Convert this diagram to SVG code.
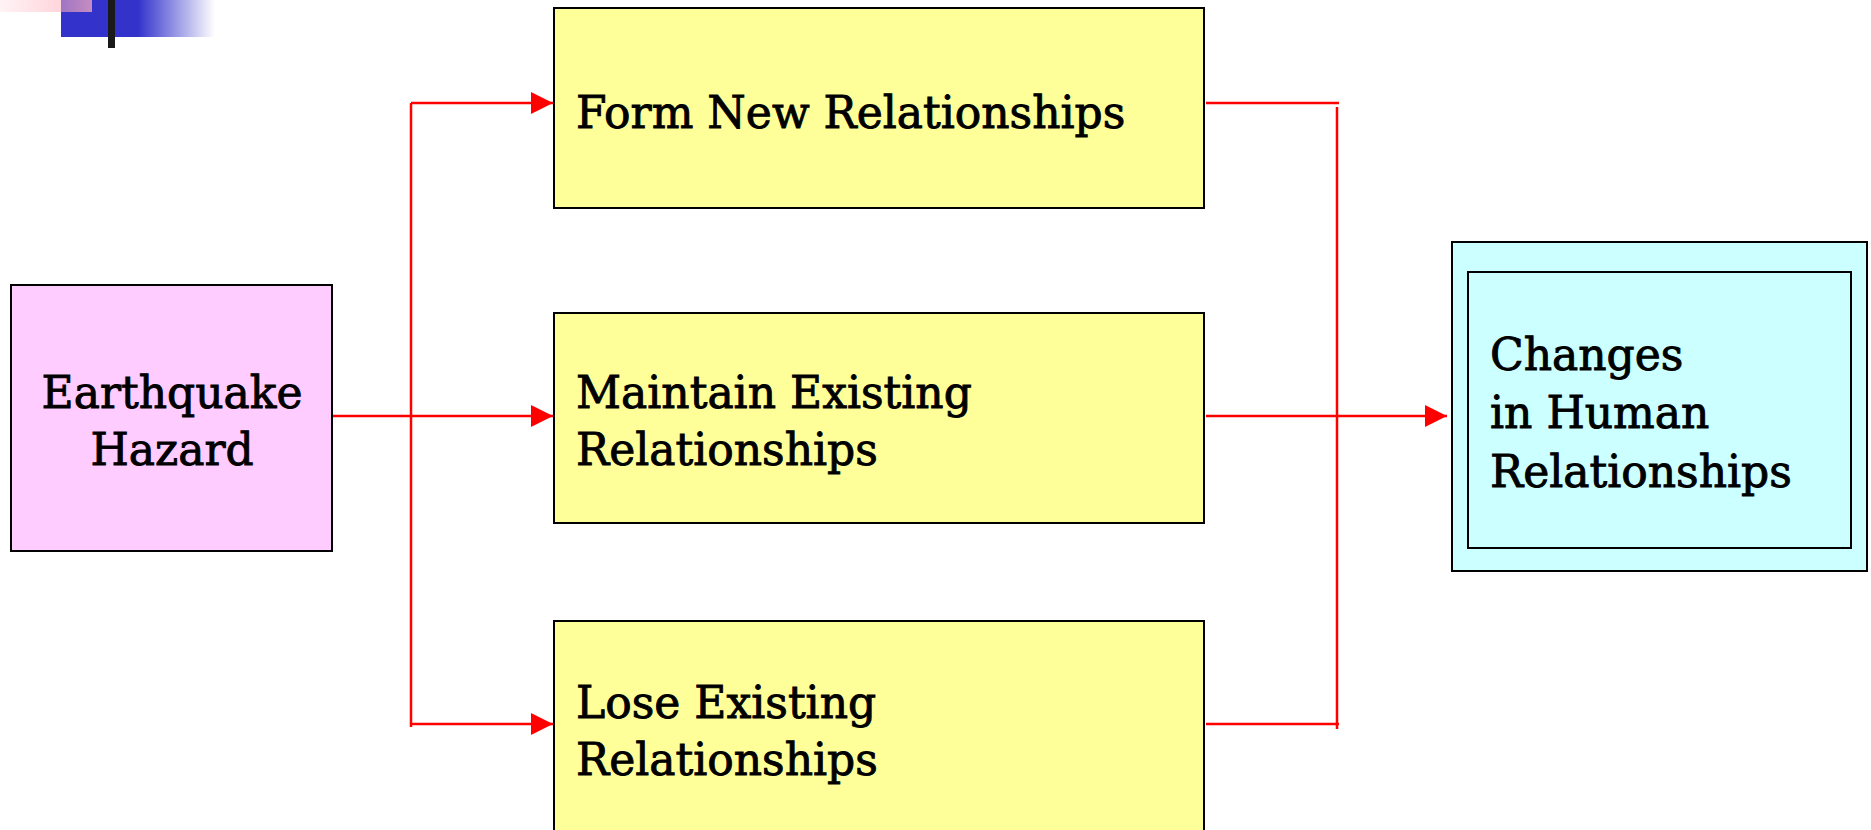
<svg xmlns="http://www.w3.org/2000/svg" width="1871" height="830" viewBox="0 0 1871 830">
<defs>
  <linearGradient id="blueFade" x1="0" y1="0" x2="1" y2="0">
    <stop offset="0" stop-color="#3333CC"/>
    <stop offset="0.5" stop-color="#3333CC"/>
    <stop offset="1" stop-color="#3333CC" stop-opacity="0"/>
  </linearGradient>
  <linearGradient id="pinkFade" x1="0" y1="0" x2="1" y2="0">
    <stop offset="0" stop-color="#FFB0BC" stop-opacity="0.15"/>
    <stop offset="1" stop-color="#FFB0BC" stop-opacity="0.72"/>
  </linearGradient>
  <marker id="arrow" markerUnits="userSpaceOnUse" markerWidth="24" markerHeight="24" refX="22" refY="11" orient="auto">
    <path d="M0,0 L22,11 L0,22 Z" fill="#FF0000"/>
  </marker>
</defs>
<style>
  .box { stroke: #000000; stroke-width: 2; }
  .txt { font-family: "DejaVu Serif", "Liberation Serif", serif; font-size: 44px; fill: #000000; stroke: #000000; stroke-width: 0.9; }
  .conn { stroke: #FF0000; stroke-width: 2.5; fill: none; }
</style>
<rect width="1871" height="830" fill="#FFFFFF"/>
<g id="decoration">
  <rect x="61" y="0" width="154" height="37" fill="url(#blueFade)"/>
  <rect x="0" y="0" width="92" height="12" fill="url(#pinkFade)"/>
  <rect x="108" y="0" width="7" height="48" fill="#1a1a1a"/>
</g>
<g id="connectors">
  <line class="conn" x1="332" y1="416" x2="553" y2="416" marker-end="url(#arrow)"/>
  <line class="conn" x1="411" y1="103" x2="411" y2="727"/>
  <line class="conn" x1="411" y1="103" x2="553" y2="103" marker-end="url(#arrow)"/>
  <line class="conn" x1="411" y1="724" x2="553" y2="724" marker-end="url(#arrow)"/>
  <line class="conn" x1="1206" y1="103" x2="1339" y2="103"/>
  <line class="conn" x1="1206" y1="724" x2="1339" y2="724"/>
  <line class="conn" x1="1337" y1="107" x2="1337" y2="729"/>
  <line class="conn" x1="1206" y1="416" x2="1447" y2="416" marker-end="url(#arrow)"/>
</g>
<g id="earthquake">
  <rect class="box" x="11" y="285" width="321" height="266" fill="#FFCCFF"/>
  <text class="txt" x="172" y="408" text-anchor="middle">Earthquake</text>
  <text class="txt" x="172" y="465" text-anchor="middle">Hazard</text>
</g>
<g id="form">
  <rect class="box" x="554" y="8" width="650" height="200" fill="#FFFF99"/>
  <text class="txt" x="576" y="128">Form New Relationships</text>
</g>
<g id="maintain">
  <rect class="box" x="554" y="313" width="650" height="210" fill="#FFFF99"/>
  <text class="txt" x="576" y="408">Maintain Existing</text>
  <text class="txt" x="576" y="465">Relationships</text>
</g>
<g id="lose">
  <rect class="box" x="554" y="621" width="650" height="220" fill="#FFFF99"/>
  <text class="txt" x="576" y="718">Lose Existing</text>
  <text class="txt" x="576" y="775">Relationships</text>
</g>
<g id="changes">
  <rect class="box" x="1452" y="242" width="415" height="329" fill="#CCFFFF"/>
  <rect class="box" x="1468" y="272" width="383" height="276" fill="none" stroke-width="1.6"/>
  <text class="txt" x="1490" y="370">Changes</text>
  <text class="txt" x="1490" y="428">in Human</text>
  <text class="txt" x="1490" y="487">Relationships</text>
</g>
</svg>
